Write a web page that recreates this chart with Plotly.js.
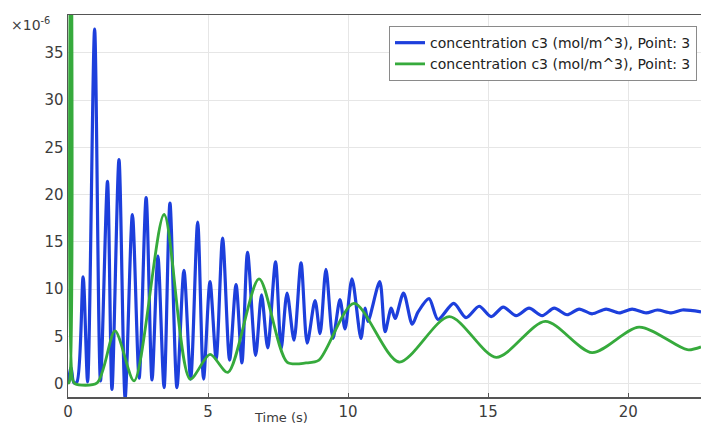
<!DOCTYPE html>
<html>
<head>
<meta charset="utf-8">
<script src="https://cdn.plot.ly/plotly-3.0.1.min.js"></script>
<style>
  html, body { margin: 0; padding: 0; background: #ffffff; }
  #chart { width: 701px; height: 426px; }
</style>
</head>
<body>
<div id="chart"></div>
<script>
// Concentration c3 at Point 3, first probe (blue): time (s) and value (x1e-6 mol/m^3)
const timeBlue = [
  0, 0.11, 0.21, 0.32, 0.54, 0.70, 0.95, 1.16, 1.41, 1.57, 1.82, 2.04, 2.30, 2.54,
  2.79, 3.00, 3.21, 3.43, 3.64, 3.89, 4.14, 4.38, 4.63, 4.84, 5.07, 5.29, 5.52, 5.77,
  6.00, 6.21, 6.41, 6.70, 6.91, 7.13, 7.41, 7.61, 7.82, 8.07, 8.32, 8.54, 8.82, 9.00,
  9.21, 9.46, 9.71, 9.89, 10.14, 10.46, 10.61, 10.71, 11.13, 11.32, 11.54, 11.68,
  11.98, 12.29, 12.50, 12.89, 13.21, 13.77, 14.21, 14.68, 15.11, 15.54, 16.00, 16.46,
  16.93, 17.36, 17.82, 18.25, 18.71, 19.21, 19.68, 20.14, 20.64, 21.04, 21.54, 21.93, 22.6
];
const concBlue = [
  0, 1.7, 0.1, 0.2, 11.3, 0.2, 37.5, 0.3, 21.4, -0.6, 23.7, -1.5, 17.9, 0.6,
  19.7, 0.4, 13.5, -0.4, 19.1, -0.4, 12.0, 0.5, 17.1, 0.5, 10.8, 2.6, 15.4, 2.5,
  10.5, 2.2, 13.9, 3.0, 9.4, 3.8, 12.9, 3.7, 9.6, 4.6, 12.8, 4.3, 8.8, 5.3,
  12.1, 4.8, 8.9, 5.8, 11.1, 4.8, 8.0, 6.6, 10.8, 5.5, 8.0, 6.9,
  9.6, 6.3, 7.6, 9.0, 6.8, 8.5, 7.0, 8.2, 7.1, 8.1, 7.2, 8.0,
  7.2, 8.0, 7.3, 7.9, 7.4, 7.9, 7.5, 7.9, 7.5, 7.8, 7.5, 7.8, 7.6
];

// Concentration c3 at Point 3, second probe (green)
const timeGreen = [
  0, 0.05, 0.11, 0.16, 0.25, 1.04, 1.68, 2.36, 3.43, 4.36, 5.07, 5.71, 6.82, 7.82,
  8.50, 8.96, 10.21, 11.82, 13.61, 15.29, 17.04, 18.71, 20.39, 22.11, 22.6
];
const concGreen = [
  0, 0.2, 60, 0.5, 0, 0.1, 5.6, 0.3, 17.9, 0.5, 3.1, 1.2, 11.1, 2.3,
  2.2, 2.5, 8.5, 2.3, 7.1, 2.8, 6.6, 3.3, 6.0, 3.6, 3.9
];

const seriesName = 'concentration c3 (mol/m^3), Point: 3';
const xTicks = [0, 5, 10, 15, 20];
const yTicks = [0, 5, 10, 15, 20, 25, 30, 35];

const textColor = '#3c3c3c';
const gridColor = '#e6e6e6';

const traces = [
  {
    x: timeBlue, y: concBlue, type: 'scatter', mode: 'lines', name: seriesName,
    line: { color: '#1d3fdc', width: 3.2, shape: 'spline', smoothing: 0.8 }
  },
  {
    x: timeGreen, y: concGreen, type: 'scatter', mode: 'lines', name: seriesName,
    line: { color: '#36aa3c', width: 2.8, shape: 'spline', smoothing: 0.8 }
  }
];

const layout = {
  width: 701, height: 426,
  margin: { l: 68, r: 0, t: 15, b: 29 },
  paper_bgcolor: '#ffffff', plot_bgcolor: '#ffffff',
  font: { family: 'DejaVu Sans, sans-serif', size: 14, color: textColor },
  showlegend: true,
  legend: {
    x: 0.9937, xanchor: 'right', y: 0.971, yanchor: 'top',
    bgcolor: '#ffffff', bordercolor: '#8a8a8a', borderwidth: 1,
    font: { family: 'DejaVu Sans, sans-serif', size: 14, color: '#222222' },
    tracegroupgap: 0
  },
  xaxis: {
    range: [0, 22.6], tickvals: xTicks, ticktext: xTicks.map(String),
    showgrid: true, gridcolor: gridColor, zeroline: false,
    showline: true, linecolor: '#555555', linewidth: 1.5, mirror: true,
    ticks: 'inside', ticklen: 4, tickcolor: '#555555',
    tickfont: { size: 15, color: textColor }
  },
  yaxis: {
    range: [-1.4, 39.0], tickvals: yTicks, ticktext: yTicks.map(String),
    showgrid: true, gridcolor: gridColor, zeroline: false,
    showline: true, linecolor: '#555555', linewidth: 1.5, mirror: true,
    ticks: '', tickfont: { size: 15, color: textColor }
  },
  annotations: [
    {
      text: '×10<sup>-6</sup>', xref: 'paper', yref: 'paper', x: 0, y: 1,
      xanchor: 'right', yanchor: 'top', xshift: -16, yshift: 2,
      showarrow: false, font: { size: 14, color: textColor }
    },
    {
      text: 'Time (s)', xref: 'paper', yref: 'paper', x: 0.336, y: 0,
      xanchor: 'center', yanchor: 'top', yshift: -11,
      showarrow: false, font: { size: 13, color: textColor }
    }
  ]
};

Plotly.newPlot('chart', traces, layout, { displayModeBar: false, staticPlot: true });
</script>
</body>
</html>
